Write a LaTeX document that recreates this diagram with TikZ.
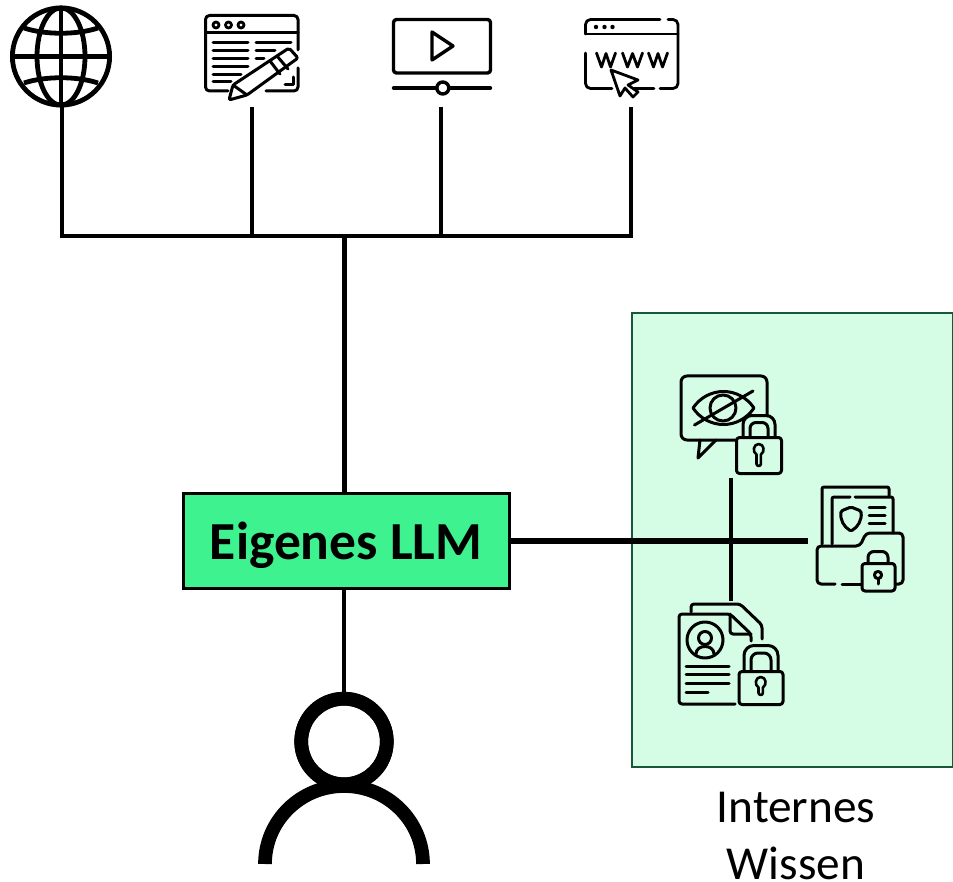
\documentclass[tikz,border=0pt]{standalone}
\usepackage{fontspec}
\setmainfont{Carlito}
\definecolor{llmgreen}{HTML}{3DF28F}
\definecolor{panelgreen}{HTML}{D5FDE6}
\definecolor{paneledge}{HTML}{17583A}
\tikzset{
  iconbox/.style={inner sep=0pt,outer sep=0pt,minimum width=#1},
  iconline/.style={line width=3pt,line cap=round,line join=round},
  thinline/.style={iconline,line width=3pt},
  conn/.style={line width=4pt,line cap=butt},
  llmbox/.style={draw=black,line width=3pt,fill=llmgreen,inner sep=0pt,outer sep=0pt,minimum width=326pt,minimum height=95pt,text height=37.6pt,text depth=0pt,font=\bfseries\fontsize{53.5}{58}\selectfont},
  panelbox/.style={draw=paneledge,line width=2pt,fill=panelgreen,inner sep=0pt,outer sep=0pt,minimum width=321pt,minimum height=454pt},
  personring/.style={draw=black,line width=13.7pt,circle,inner sep=0pt,minimum size=85.6pt},
  caption/.style={align=center,inner sep=0pt,font=\fontsize{47.3}{58}\selectfont},
}
% #1 left #2 right #3 top #4 bottom of body, #5 keyhole centre x, #6 keyhole centre y, #7 keyhole bottom
\newcommand{\lockbodyshape}[7]{%
  \draw[thinline,rounded corners=3pt,fill=panelgreen] (#1,#3) rectangle (#2,#4);
  \draw[thinline,line width=2.6pt] (#5-2.2,#6+4.5) .. controls (#5-6.5,#6+2) and (#5-5.5,#6-6) .. (#5,#6-6) .. controls (#5+5.5,#6-6) and (#5+6.5,#6+2) .. (#5+2.2,#6+4.5) -- (#5+2.2,#7-2.2) arc[start angle=0,end angle=180,radius=2.2] -- cycle;
}
\begin{document}
\begin{tikzpicture}[x=1pt,y=-1pt]
\useasboundingbox (0,0) rectangle (953,882);
\fill[white] (0,0) rectangle (953,882);

% panel
\node[panelbox] (panel) at (792.5,540) {};

% icon holders
\node[iconbox=102pt,minimum height=101pt] (globe) at (61,56.5) {};
\node[iconbox=96pt,minimum height=100pt] (editor) at (252,57) {};
\node[iconbox=98pt,minimum height=90pt] (video) at (441,62) {};
\node[iconbox=94pt,minimum height=94pt] (web) at (631,60) {};
\node[iconbox=102pt,minimum height=102pt] (eyelock) at (731,427) {};
\node[iconbox=104pt,minimum height=104pt] (doclock) at (731,653) {};
\node[iconbox=98pt,minimum height=110pt] (folderlock) at (857,541) {};

% connectors
\coordinate (jA) at (62,236);
\coordinate (jB) at (252,236);
\coordinate (jC) at (441,236);
\coordinate (jD) at (631,236);
\coordinate (jM) at (344.5,236);
\draw[conn] (globe.south -| jA) -- (jA);
\draw[conn] (editor.south) -- (jB);
\draw[conn] (video.south) -- (jC);
\draw[conn] (web.south) -- (jD);
\draw[conn] ([xshift=-2pt]jA) -- ([xshift=2pt]jD);

\node[llmbox] (llm) at (346,540.5) {Eigenes LLM};
\draw[conn,line width=5pt] (jM) -- (jM |- llm.north);

% person
\node[personring] (head) at (344,741.5) {};
\draw[conn] (llm.south -| head) -- (head.north);
\draw[line width=13.7pt,line cap=butt] (265,864) arc[start angle=180,end angle=360,x radius=79,y radius=78];
\node[personring] at (head) {};

% internal connectors
\draw[conn,line width=6pt] (llm.east |- folderlock) -- (folderlock.west);
\draw[conn,line width=3.6pt] (eyelock.south) -- (doclock.north);

% globe
\begin{scope}[line width=4.8pt]
\draw (globe.center) circle[radius=48.6];
\draw (globe.center) ellipse[x radius=24,y radius=48.6];
\draw (61,8) -- (61,105);
\draw (12.5,56.5) -- (109.5,56.5);
\draw (24,28) .. controls (45,35) and (77,35) .. (98,28);
\draw (24,83) .. controls (45,76) and (77,76) .. (98,83);
\end{scope}

% editor
\begin{scope}[iconline]
\draw[rounded corners=4pt] (228,91) -- (205.5,91) -- (205.5,15.5) -- (298,15.5) -- (298,50);
\draw[rounded corners=4pt] (298,68) -- (298,91) -- (266,91);
\draw (205.5,33) -- (298,33);
\draw[line width=2.8pt] (216,25) circle[radius=3] (228.5,25) circle[radius=3] (241,25) circle[radius=3];
\draw (213,43) -- (248,43) (213,51) -- (248,51) (213,59) -- (248,59) (213,67) -- (248,67) (213,75) -- (241,75) (213,82) -- (231,82);
\draw (256,43) -- (291,43) (256,51) -- (275,51) (256,59) -- (264,59);
\draw (293,77) -- (293,85) -- (285,85);
\draw[fill=white,rounded corners=2pt] (229,100) -- (233,85) -- (289,48) -- (298,58) -- (247,95) -- cycle;
\draw (233,85) -- (247,95);
\draw (270,61) -- (280,74) (277,56) -- (288,69);
\end{scope}

% video
\begin{scope}[iconline,line width=3.4pt]
\draw[rounded corners=3pt] (393.5,19.5) rectangle (490.5,73);
\draw (432,32) -- (432,60) -- (453,46) -- cycle;
\draw (393.5,88) -- (437,88) (449,88) -- (490.5,88);
\draw (442.8,88) circle[radius=6];
\end{scope}

% web
\begin{scope}[iconline,line width=2.8pt]
\draw[rounded corners=5pt] (585.5,34) -- (585.5,19.5) -- (660,19.5);
\draw[rounded corners=5pt] (668,19.5) -- (678,19.5) -- (678,88.5) -- (660,88.5);
\draw (654,88.5) -- (634,88.5);
\draw[rounded corners=5pt] (612,88.5) -- (585.5,88.5) -- (585.5,53);
\draw (585.5,34) -- (678,34);
\fill (596,27) circle[radius=2.2] (604.5,27) circle[radius=2.2] (612.5,27) circle[radius=2.2];
\draw (596.5,53) -- (601.5,67) -- (606,53.5) -- (610.5,67) -- (615.5,53);
\draw (622.5,53) -- (627.5,67) -- (632.5,53.5) -- (637.5,67) -- (642.5,53);
\draw (648.5,53) -- (653.5,67) -- (658,53.5) -- (662.5,67) -- (667.5,53);
\draw[fill=white] (611,70) -- (638,80) -- (628,85) -- (638,92) -- (633,97) -- (625,88) -- (620,96) -- cycle;
\end{scope}

% eye + lock
\begin{scope}[thinline]
\draw[rounded corners=6pt] (736,440) -- (681,440) -- (681,376) -- (767,376) -- (767,416);
\draw (700,440) -- (698,458) -- (716,440);
\draw (693,408) .. controls (708,386) and (739,386) .. (754,408) .. controls (739,430) and (708,430) .. (693,408) -- cycle;
\draw (723,408) circle[radius=13];
\draw (694.5,425) -- (753,391);
\draw[rounded corners=9pt] (743,437) -- (743,415.5) -- (775,415.5) -- (775,437);
\draw[rounded corners=6pt] (750,437) -- (750,422.5) -- (768,422.5) -- (768,437);
\lockbodyshape{736.5}{781.5}{437.5}{473.5}{758.7}{450}{466}
\end{scope}

% document + lock
\begin{scope}[thinline]
\draw[rounded corners=3pt] (735,704) -- (679,704) -- (679,614) -- (730,614) -- (751,634) -- (751,641);
\draw[rounded corners=3pt] (730,614) -- (730,634) -- (751,634);
\draw[rounded corners=3pt] (691,612) -- (691,604) -- (740,604) -- (762,625) -- (762,639);
\draw (705,640) circle[radius=18];
\draw (705,638) circle[radius=6.5];
\draw (696,654) .. controls (696,644) and (714,644) .. (714,654);
\draw (686,666) -- (729,666) (686,674.5) -- (729,674.5) (686,683) -- (729,683) (686,692) -- (708,692);
\draw[rounded corners=10pt] (744,671) -- (744,645.5) -- (778,645.5) -- (778,671);
\draw[rounded corners=7pt] (751,671) -- (751,653) -- (771,653) -- (771,671);
\lockbodyshape{739}{783}{671.5}{704.5}{760.7}{683}{695}
\end{scope}

% folder + lock
\begin{scope}[thinline]
\draw[rounded corners=2pt] (822,544) -- (822,487) -- (889,487) -- (889,496);
\draw[rounded corners=2pt] (832,544) -- (832,497) -- (850,497);
\draw[rounded corners=2pt] (855,497) -- (893,497) -- (893,533);
\draw[rounded corners=1.5pt] (851,507) -- (861,511) .. controls (862,520) and (858,527) .. (851,531) .. controls (844,527) and (840,520) .. (841,511) -- cycle;
\draw (869,507) -- (885,507) (869,515) -- (885,515) (869,523) -- (885,523);
\draw[rounded corners=4pt] (835,584) -- (817,584) -- (817,546) -- (860,546) -- (866,533) -- (903,533) -- (903,584) -- (896,584);
\draw (842,584) -- (861,584);
\draw[rounded corners=6pt] (868,563) -- (868,551.5) -- (888,551.5) -- (888,563);
\draw[rounded corners=3pt,fill=panelgreen] (862,563.5) rectangle (895,591);
\draw (878,575) circle[radius=3.6];
\draw (878,579) -- (878,584);
\end{scope}

% caption
\node[caption,anchor=base] (cap) at (796,822) {Internes};
\node[caption,anchor=base] (cap2) at (796,879) {Wissen};
\end{tikzpicture}
\end{document}
